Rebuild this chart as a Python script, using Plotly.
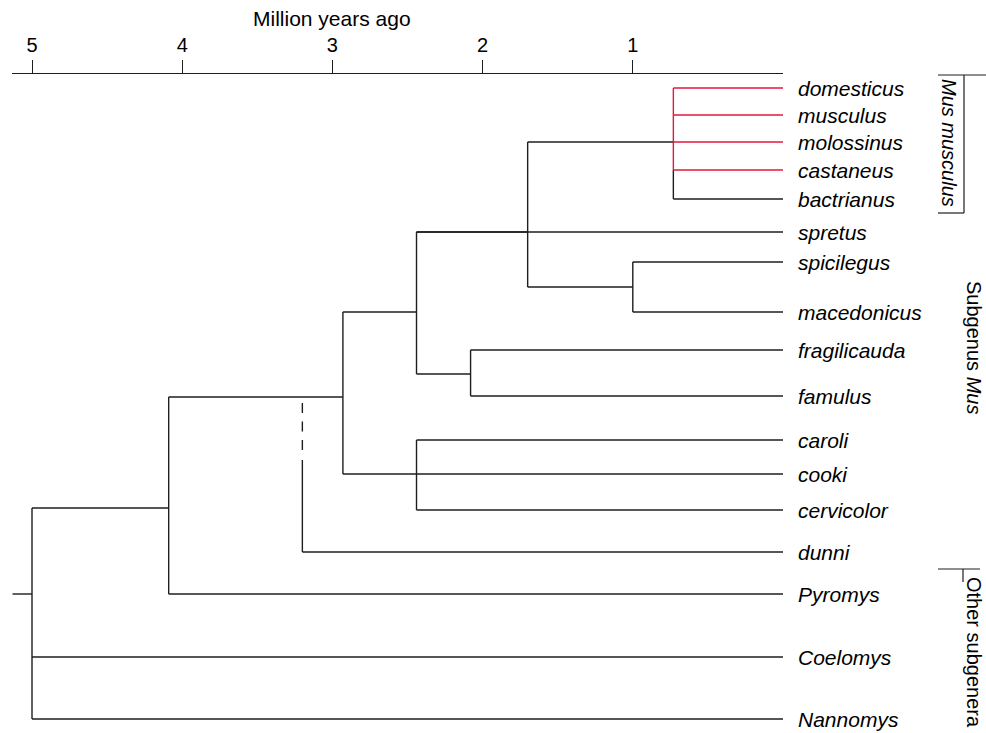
import plotly.graph_objects as go

# ---------------- data ----------------
species = ["domesticus", "musculus", "molossinus", "castaneus", "bactrianus",
           "spretus", "spicilegus", "macedonicus", "fragilicauda", "famulus",
           "caroli", "cooki", "cervicolor", "dunni", "Pyromys", "Coelomys", "Nannomys"]
red_tips = ["domesticus", "musculus", "molossinus", "castaneus"]

# divergence times (million years ago) of internal nodes
node_age = {
    "musculus_complex": 0.73,
    "spicilegus_macedonicus": 1.00,
    "musculus_spicilegus": 1.70,
    "spretus_clade": 2.44,
    "fragilicauda_famulus": 2.08,
    "caroli_group": 2.44,
    "mus_core": 2.93,
    "dunni_split": 3.20,
    "mus_pyromys": 4.09,
    "root": 5.00,
    "root_stub": 5.13,
}
tick_vals = [5, 4, 3, 2, 1]
tick_text = ["5", "4", "3", "2", "1"]

# ---------------- layout of the drawing (rows in pixel units) ----------------
tip_row = [88, 115, 142, 170, 199, 232, 262, 312, 350, 396, 440, 474, 510, 552, 594, 657, 719]
row = dict(zip(species, tip_row))
node_row = {  # row where each internal node attaches to its parent
    "musculus_complex": 142,
    "spicilegus_macedonicus": 287,
    "musculus_spicilegus": 232,
    "fragilicauda_famulus": 374,
    "spretus_clade": 312,
    "caroli_group": 474,
    "mus_core": 397,
    "mus_pyromys": 508,
    "root": 594,
}

tree = ("root", [
    ("mus_pyromys", [
        ("mus_core", [
            ("spretus_clade", [
                "spretus",
                ("musculus_spicilegus", [
                    ("musculus_complex", ["domesticus", "musculus", "molossinus", "castaneus", "bactrianus"]),
                    ("spicilegus_macedonicus", ["spicilegus", "macedonicus"]),
                ]),
                ("fragilicauda_famulus", ["fragilicauda", "famulus"]),
            ]),
            ("caroli_group", ["caroli", "cooki", "cervicolor"]),
        ]),
        "Pyromys",
    ]),
    "Coelomys",
    "Nannomys",
])

black_x, black_y, red_x, red_y = [], [], [], []


def seg(x0, y0, x1, y1, red=False):
    xs, ys = (red_x, red_y) if red else (black_x, black_y)
    xs += [x0, x1, None]
    ys += [y0, y1, None]


def draw(node):
    if isinstance(node, str):
        return row[node], 0.0, node in red_tips
    name, children = node
    age = node_age[name]
    info = [draw(c) for c in children]
    for (cy, cage, cred) in info:
        seg(age, cy, cage, cy, cred)
    order = sorted(info, key=lambda i: i[0])
    for a, b in zip(order[:-1], order[1:]):
        seg(age, a[0], age, b[0], a[2] and b[2])
    return node_row[name], age, False


draw(tree)
# root stub
seg(node_age["root_stub"], node_row["root"], node_age["root"], node_row["root"])
# dunni: attaches onto the mus_core branch
d_age = node_age["dunni_split"]
seg(d_age, row["dunni"], 0.0, row["dunni"])
seg(d_age, 460, d_age, row["dunni"])

fig = go.Figure()
line_col = "#1e1e1e"
fig.add_trace(go.Scatter(x=black_x, y=black_y, mode="lines",
                         line=dict(color=line_col, width=1.4), hoverinfo="skip",
                         cliponaxis=False, showlegend=False))
fig.add_trace(go.Scatter(x=red_x, y=red_y, mode="lines",
                         line=dict(color="#e5173c", width=1.4), hoverinfo="skip",
                         cliponaxis=False, showlegend=False))
fig.add_trace(go.Scatter(x=[d_age, d_age], y=[403, 451], mode="lines",
                         line=dict(color=line_col, width=1.4, dash="10px,8.5px"),
                         hoverinfo="skip", cliponaxis=False, showlegend=False))

FONT = "Liberation Sans, Arial, sans-serif"
ann = []
for sp in species:
    ann.append(dict(x=0, y=row[sp], xref="x", yref="y", text="<i>%s</i>" % sp,
                    showarrow=False, xanchor="left", yanchor="middle", xshift=13,
                    font=dict(size=21, color="black", family=FONT)))

W, H = 986, 733
L, R, T, B = 12, 203, 74, 0
pw, ph = W - L - R, H - T - B


def px(xp):
    return (xp - L) / pw


def py(yp):
    return (H - B - yp) / ph


ann.append(dict(x=px(332), y=py(18), xref="paper", yref="paper", text="Million years ago",
                showarrow=False, xanchor="center", yanchor="middle",
                font=dict(size=21, color="black", family=FONT)))
ann.append(dict(x=px(949), y=py(143), xref="paper", yref="paper", text="<i>Mus musculus</i>",
                showarrow=False, textangle=90, xanchor="center", yanchor="middle",
                font=dict(size=20, color="black", family=FONT)))
ann.append(dict(x=px(974), y=py(347), xref="paper", yref="paper", text="Subgenus <i>Mus</i>",
                showarrow=False, textangle=90, xanchor="center", yanchor="middle",
                font=dict(size=20, color="black", family=FONT)))
ann.append(dict(x=px(974), y=py(652), xref="paper", yref="paper", text="Other subgenera",
                showarrow=False, textangle=90, xanchor="center", yanchor="middle",
                font=dict(size=20, color="black", family=FONT)))

shapes = []


def pline(x0, y0, x1, y1):
    shapes.append(dict(type="line", xref="paper", yref="paper",
                       x0=px(x0), y0=py(y0), x1=px(x1), y1=py(y1),
                       line=dict(color=line_col, width=1.2)))


# Mus musculus bracket
pline(938, 75, 986, 75)
pline(964, 75, 964, 213)
pline(938, 213, 964, 213)
# Other subgenera bracket
pline(938, 569, 980, 569)
pline(963, 569, 963, 582)

fig.update_layout(
    width=W, height=H,
    margin=dict(l=L, r=R, t=T, b=B),
    paper_bgcolor="white", plot_bgcolor="white",
    annotations=ann, shapes=shapes,
    font=dict(family=FONT, color="black"),
    xaxis=dict(range=[(783 - L) / 150.2, 0], side="top", showgrid=False, zeroline=False,
               showline=True, linecolor=line_col, linewidth=1.3,
               ticks="outside", ticklen=13, tickwidth=1.3, tickcolor=line_col,
               tickvals=tick_vals, ticktext=tick_text,
               tickfont=dict(size=20, color="black", family=FONT), fixedrange=True),
    yaxis=dict(range=[H, T], visible=False, showgrid=False, zeroline=False, fixedrange=True),
    showlegend=False,
)

fig.write_html("out.html", config={"displayModeBar": False},
               post_script="document.body.style.margin='0px';document.body.style.overflow='hidden';")
